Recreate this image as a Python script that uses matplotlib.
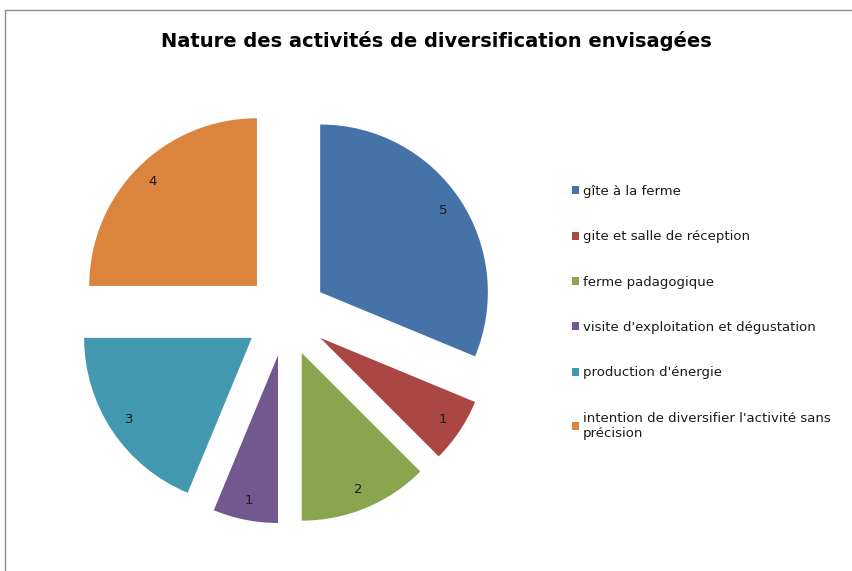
import matplotlib.pyplot as plt
from matplotlib.patches import Rectangle

activites = ["gîte à la ferme",
             "gite et salle de réception",
             "ferme padagogique",
             "visite d'exploitation et dégustation",
             "production d'énergie",
             "intention de diversifier l'activité sans\nprécision"]
nombres = [5, 1, 2, 1, 3, 4]
couleurs = ["#4572A7", "#AA4643", "#89A54E", "#71588F", "#4198AF", "#DB843D"]

fig = plt.figure(figsize=(8.52, 5.71), dpi=100)

# cadre gris du graphique (bord gauche et haut visibles)
fig.patches.append(Rectangle((5 / 852, -0.1), 1.2, 1 - 10 / 571 + 0.1,
                             transform=fig.transFigure, fill=False,
                             edgecolor="#8c8c8c", linewidth=1.0))

fig.text(436 / 852, 1 - 41 / 571, "Nature des activités de diversification envisagées",
         ha="center", va="center", fontsize=14, fontweight="bold",
         family="DejaVu Sans")

ax = fig.add_axes([68 / 852, 38 / 571, 436 / 852, 436 / 571])
wedges, texts, autotexts = ax.pie(nombres, colors=couleurs, startangle=90,
                                  counterclock=False, explode=[0.245] * 6,
                                  autopct=lambda p: "%d" % round(p * sum(nombres) / 100),
                                  pctdistance=0.88,
                                  textprops={"fontsize": 9.5, "color": "#1a1a1a"})
ax.set_xlim(-1.3, 1.3)
ax.set_ylim(-1.3, 1.3)
ax.set_aspect("auto")

leg = fig.legend(wedges, activites, loc="upper left",
                 bbox_to_anchor=(572 / 852, 1 - 185 / 571),
                 frameon=False, fontsize=9.5, labelspacing=2.45,
                 handlelength=0.55, handleheight=0.55, handletextpad=0.3,
                 borderpad=0, borderaxespad=0)
for t in leg.get_texts():
    t.set_color("#1a1a1a")

fig.savefig("out.png", dpi=100)
